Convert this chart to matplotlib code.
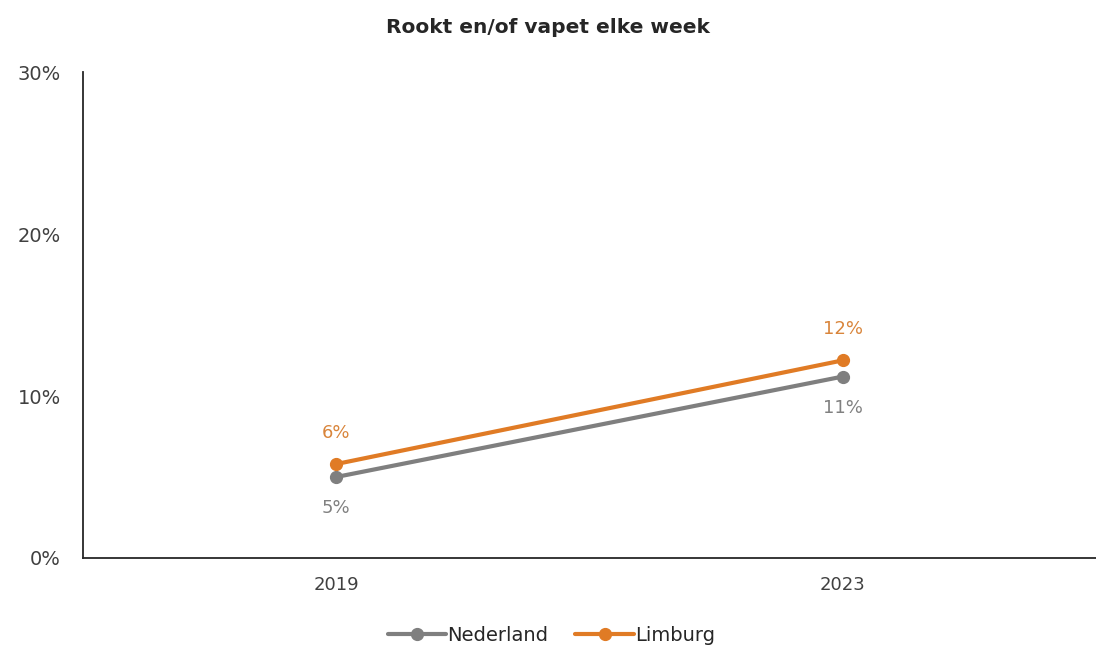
import matplotlib
matplotlib.use("Agg")
from matplotlib import pyplot as plt
from matplotlib.ticker import PercentFormatter

plt.rcParams['font.family'] = ['DejaVu Sans']

years = ["2019", "2023"]
nederland = [5.0, 11.2]
limburg = [5.8, 12.2]

grey = "#7f7f7f"
orange = "#e07b25"

fig = plt.figure(figsize=(10.96, 6.53), dpi=100)
ax = fig.add_axes([0.0757, 0.1455, 0.9243, 0.7442])

x = range(len(years))
ax.plot(x, nederland, color=grey, lw=3.0, marker="o", ms=8.5, label="Nederland",
        solid_capstyle="round", zorder=3)
ax.plot(x, limburg, color=orange, lw=3.0, marker="o", ms=8.5, label="Limburg",
        solid_capstyle="round", zorder=4)

# value labels: Limburg above, Nederland below
for i, v in enumerate(limburg):
    ax.annotate(f"{v:.0f}%", (i, v), xytext=(0, 16), textcoords="offset points",
                ha="center", va="bottom", color="#d9853b", fontsize=13)
for i, v in enumerate(nederland):
    ax.annotate(f"{v:.0f}%", (i, v), xytext=(0, -16), textcoords="offset points",
                ha="center", va="top", color="#808080", fontsize=13)

ax.set_xlim(-0.5, 1.5)
ax.set_ylim(0, 30)
ax.set_xticks(list(x))
ax.set_xticklabels(years)
ax.set_yticks([0, 10, 20, 30])
ax.yaxis.set_major_formatter(PercentFormatter(decimals=0))
ax.tick_params(axis="both", length=0, colors="#404040")
ax.tick_params(axis="y", pad=16, labelsize=14)
ax.tick_params(axis="x", pad=13, labelsize=13)

for side in ("top", "right"):
    ax.spines[side].set_visible(False)
for side in ("left", "bottom"):
    ax.spines[side].set_color("#262626")
    ax.spines[side].set_linewidth(1.3)

fig.suptitle("Rookt en/of vapet elke week", x=0.5, y=0.972, fontsize=14.5,
             fontweight="bold", color="#262626")

fig.legend(loc="center", bbox_to_anchor=(0.503, 0.027), ncol=2, frameon=False,
           fontsize=14, handlelength=3.0, handletextpad=0.05, columnspacing=1.4,
           labelcolor="#262626")

fig.savefig("out.png", dpi=100)
